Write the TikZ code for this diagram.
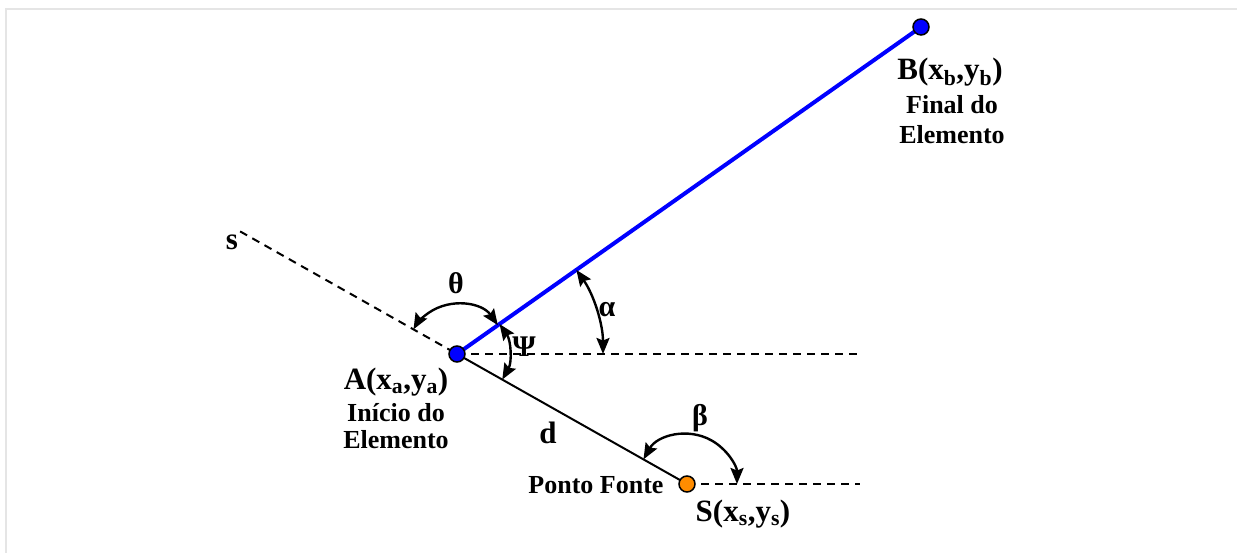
\documentclass[tikz,border=0pt]{standalone}
\usepackage{fontspec}
\setmainfont{Liberation Serif}
\usetikzlibrary{arrows.meta,calc}
\begin{document}
\begin{tikzpicture}[x=1pt,y=1pt,
  frame/.style={draw=black!10,line width=2pt},
  dashline/.style={draw=black,line width=2pt,dash pattern=on 8pt off 6pt},
  elem/.style={draw=blue,line width=4pt},
  seg/.style={draw=black,line width=2pt},
  anglearc/.style={draw=black,line width=2.4pt,{Stealth[length=16pt,width=13pt,inset=2.5pt]}-{Stealth[length=16pt,width=13pt,inset=2.5pt]}},
  pt/.style={circle,draw=black,line width=1.5pt,minimum size=16pt,inner sep=0pt},
  big/.style={font=\bfseries\fontsize{31}{33}\selectfont,inner sep=0pt},
  mid/.style={font=\bfseries\fontsize{26}{28}\selectfont,inner sep=0pt},
  greek/.style={font=\bfseries\fontsize{30}{32}\selectfont,inner sep=0pt}
]
\useasboundingbox (0,0) rectangle (1237,553);
% frame
\coordinate (f1) at (5.5,0);
\coordinate (f2) at (5.5,543.5);
\coordinate (f3) at (1237,543.5);
\draw[frame] (f1) -- (f2) -- (f3);
% key points
\coordinate (a) at (457,199);
\coordinate (b) at (921,526);
\coordinate (s) at (687,69);
\coordinate (se) at ($(a)!-0.943!(s)$);
\coordinate (ha) at (860,199);
\coordinate (hs) at (860,69);
% lines
\draw[dashline] (se) -- (a);
\draw[dashline] (a) -- (ha);
\draw[dashline] (s) -- (hs);
\draw[seg] (a) -- (s);
\draw[elem] (a) -- (b);
% arcs
\draw[anglearc] ($(a)+(35.17:50)$) arc[start angle=35.17,end angle=150.5,radius=50];
\draw[anglearc] ($(a)+(35.17:52)$) arc[start angle=35.17,end angle=-29.5,radius=52];
\draw[anglearc] ($(a)+(35.17:146)$) arc[start angle=35.17,end angle=0,radius=146];
\draw[anglearc] ($(s)+(150.5:50)$) arc[start angle=150.5,end angle=0,radius=50];
% points
\node[pt,fill=blue] (A) at (a) {};
\node[pt,fill=blue] (B) at (b) {};
\node[pt,fill=orange!90!yellow] (S) at (s) {};
% labels
\node[greek] (theta) at (456,270) {θ};
\node[greek] (psi) at (524,206) {Ψ};
\node[greek] (alpha) at (607,243) {α};
\node[greek] (beta) at (700,135) {β};
\node[big] (d) at (548,120) {d};
\node[big] (slbl) at (232,311) {s};
\node[big] (Alab) at (396,171) {A(x\textsubscript{a},y\textsubscript{a})};
\node[mid] (Al1) at (396,140) {Início do};
\node[mid] (Al2) at (396,113) {Elemento};
\node[big] (Blab) at (950,481) {B(x\textsubscript{b},y\textsubscript{b})};
\node[mid] (Bl1) at (952,448) {Final do};
\node[mid] (Bl2) at (952,418) {Elemento};
\node[mid] (pf) at (596,68) {Ponto Fonte};
\node[big] (Slab) at (743,39) {S(x\textsubscript{s},y\textsubscript{s})};
\end{tikzpicture}
\end{document}
